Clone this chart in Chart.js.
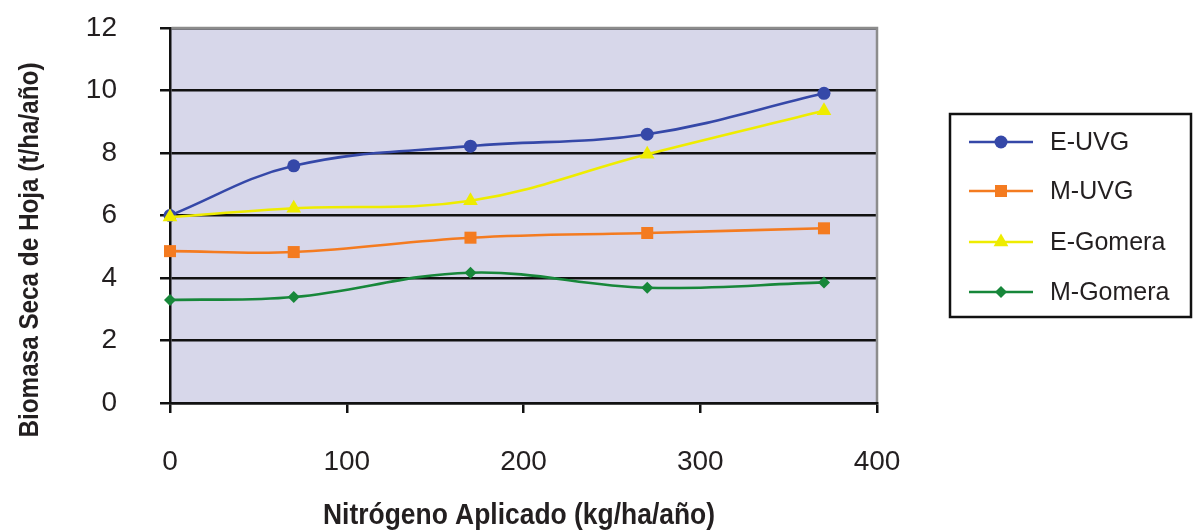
<!DOCTYPE html>
<html>
<head>
<meta charset="utf-8">
<script src="https://cdn.jsdelivr.net/npm/chart.js@4/dist/chart.umd.min.js"></script>
<style>
  html, body { margin: 0; padding: 0; background: #ffffff; }
  #wrap { width: 1193px; height: 531px; position: relative; }
</style>
</head>
<body>
<div id="wrap"><canvas id="c" width="1193" height="531"></canvas></div>
<script>
// Applied nitrogen (kg/ha/año) and dry leaf biomass (t/ha/año)
const nitrogen = [0, 70, 170, 270, 370];
const eUVG     = [6.00, 7.59, 8.22, 8.60, 9.91];
const mUVG     = [4.86, 4.83, 5.29, 5.44, 5.59];
const eGomera  = [5.95, 6.23, 6.47, 7.96, 9.35];
const mGomera  = [3.30, 3.39, 4.17, 3.69, 3.86];

const seriesNames = ['E-UVG', 'M-UVG', 'E-Gomera', 'M-Gomera'];
const seriesValues = [eUVG, mUVG, eGomera, mGomera];
const seriesColors = ['#3548a8', '#f47b20', '#eeec00', '#17873a'];
const seriesMarkers = ['circle', 'rect', 'triangle', 'rectRot'];
const markerRadius = [6.5, 8.5, 8.5, 6];

const xTicks = [0, 100, 200, 300, 400];
const yTicks = [0, 2, 4, 6, 8, 10, 12];

const xTitle = 'Nitrógeno Aplicado (kg/ha/año)';
const yTitle = 'Biomasa Seca de Hoja (t/ha/año)';

const TEXT = '#231f20';
const SANS = '"Liberation Sans", Arial, sans-serif';

const datasets = seriesNames.map((name, i) => ({
  label: name,
  data: nitrogen.map((n, k) => ({ x: n, y: seriesValues[i][k] })),
  borderColor: seriesColors[i],
  backgroundColor: seriesColors[i],
  pointBackgroundColor: seriesColors[i],
  pointBorderColor: seriesColors[i],
  pointBorderWidth: 0,
  pointStyle: seriesMarkers[i],
  pointRadius: markerRadius[i],
  borderWidth: 2.6,
  tension: 0.38,
  fill: false,
  clip: false,
  order: name === 'E-Gomera' ? 0 : 1
}));

// Draws a line of text squeezed horizontally to a given width
function fittedText(ctx, text, cx, cy, font, width, angle) {
  ctx.save();
  ctx.translate(cx, cy);
  if (angle) ctx.rotate(angle);
  ctx.font = font;
  const natural = ctx.measureText(text).width;
  ctx.scale(width / natural, 1);
  ctx.fillStyle = TEXT;
  ctx.textAlign = 'center';
  ctx.textBaseline = 'middle';
  ctx.fillText(text, 0, 0);
  ctx.restore();
}

// Lavender plotting area with a grey frame on top and right
const plotBackground = {
  id: 'plotBackground',
  beforeDraw(chart) {
    const { ctx, chartArea: a } = chart;
    ctx.save();
    ctx.fillStyle = '#d7d7ea';
    ctx.fillRect(a.left, a.top, a.right - a.left, a.bottom - a.top);
    ctx.restore();
  },
  beforeDatasetsDraw(chart) {
    const { ctx, chartArea: a } = chart;
    ctx.save();
    ctx.strokeStyle = '#8c8c8c';
    ctx.lineWidth = 2.5;
    ctx.beginPath();
    ctx.moveTo(a.left + 1.5, a.top);
    ctx.lineTo(a.right, a.top);
    ctx.lineTo(a.right, a.bottom - 1);
    ctx.stroke();
    ctx.restore();
  }
};

// Axis titles in a condensed bold face
const axisTitles = {
  id: 'axisTitles',
  afterDraw(chart) {
    const { ctx } = chart;
    fittedText(ctx, yTitle, 30, 250, 'bold 28px ' + SANS, 375, -Math.PI / 2);
    fittedText(ctx, xTitle, 519, 516, 'bold 30px ' + SANS, 392, 0);
  }
};

// Boxed legend with line + marker samples
const boxedLegend = {
  id: 'boxedLegend',
  afterDraw(chart) {
    const { ctx } = chart;
    const box = { x: 950, y: 114, w: 241, h: 203 };
    ctx.save();
    ctx.fillStyle = '#ffffff';
    ctx.fillRect(box.x, box.y, box.w, box.h);
    ctx.strokeStyle = '#111111';
    ctx.lineWidth = 2.5;
    ctx.strokeRect(box.x, box.y, box.w, box.h);
    const rows = [142, 191, 242, 292];
    chart.data.datasets.forEach((ds, i) => {
      const y = rows[i];
      ctx.strokeStyle = ds.borderColor;
      ctx.lineWidth = 2.6;
      ctx.beginPath();
      ctx.moveTo(969, y);
      ctx.lineTo(1033, y);
      ctx.stroke();
      ctx.fillStyle = ds.pointBackgroundColor;
      Chart.helpers.drawPoint(ctx, {
        pointStyle: ds.pointStyle,
        radius: ds.pointRadius,
        rotation: 0,
        borderWidth: 0
      }, 1001, y);
      ctx.fillStyle = TEXT;
      ctx.font = '25px ' + SANS;
      ctx.textAlign = 'left';
      ctx.textBaseline = 'middle';
      ctx.fillText(ds.label, 1050, y + 1);
    });
    ctx.restore();
  }
};

new Chart(document.getElementById('c'), {
  type: 'line',
  data: { datasets },
  plugins: [plotBackground, axisTitles, boxedLegend],
  options: {
    responsive: false,
    animation: false,
    events: [],
    layout: { padding: { top: 28, right: 316, left: 0, bottom: 0 } },
    plugins: { legend: { display: false }, tooltip: { enabled: false } },
    scales: {
      x: {
        type: 'linear',
        min: 0,
        max: 400,
        afterFit(scale) { scale.height = 128; scale.paddingLeft = 0; scale.paddingRight = 0; },
        afterBuildTicks(scale) { scale.ticks = xTicks.map(v => ({ value: v })); },
        grid: {
          drawOnChartArea: false,
          drawTicks: true,
          tickLength: 10,
          color: '#111111',
          lineWidth: 2.5
        },
        border: { color: '#111111', width: 2.5 },
        ticks: {
          font: { family: SANS, size: 28, lineHeight: 1 },
          color: TEXT,
          padding: 35,
          maxRotation: 0
        }
      },
      y: {
        type: 'linear',
        min: 0,
        max: 12,
        afterFit(scale) { scale.width = 170; scale.paddingTop = 0; scale.paddingBottom = 0; },
        afterBuildTicks(scale) { scale.ticks = yTicks.map(v => ({ value: v })); },
        grid: {
          drawTicks: true,
          tickLength: 10,
          color: '#111111',
          lineWidth: 2.5
        },
        border: { color: '#111111', width: 2.5 },
        ticks: {
          font: { family: SANS, size: 28, lineHeight: 1 },
          color: TEXT,
          padding: 43
        }
      }
    }
  }
});
</script>
</body>
</html>
